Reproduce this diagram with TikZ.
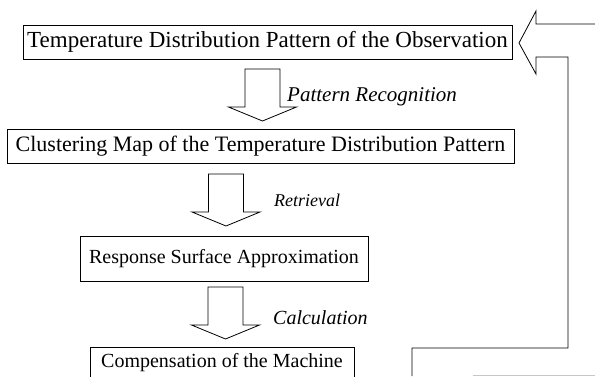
\documentclass[tikz,border=0pt]{standalone}
\usepackage{fontspec}
\setmainfont{Liberation Serif}
\newcommand{\fsz}[1]{\fontsize{#1}{#1}\selectfont}
\begin{document}
\begin{tikzpicture}[x=1pt,y=1pt,
  box/.style={draw, line width=0.8pt, inner sep=0pt, text height=14pt, text depth=4pt},
  lbl/.style={anchor=west, inner sep=0pt},
  hollowdown/.pic={\draw[line width=0.8pt, line join=miter] (-17.5,0) -- (-17.5,-38) -- (-34,-38) -- (0,-52) -- (34,-38) -- (17.5,-38) -- (17.5,0) -- cycle;}
]
\useasboundingbox (0,0) rectangle (595,376);
% boxes
\node[box, font=\fsz{23}, minimum width=489pt, minimum height=34pt] (b1) at (267.5,334) {Temperature Distribution Pattern of the Observation};
\node[box, font=\fsz{22}, minimum width=507pt, minimum height=34pt] (b2) at (260.5,230) {Clustering Map of the Temperature Distribution Pattern};
\node[box, font=\fsz{20}, minimum width=288pt, minimum height=45pt] (b3) at (224,117.5) {Response Surface Approximation};
\node[draw, line width=0.8pt, anchor=north, inner xsep=0pt, inner ysep=4pt, minimum width=264pt, font=\fsz{20}, text height=16pt, text depth=40pt] (b4) at (222,29) {Compensation of the Machine};
% hollow arrows between boxes
\coordinate (a1) at (262.5,307);
\coordinate (a2) at (226,202);
\coordinate (a3) at (225.5,89);
\pic at (a1) {hollowdown};
\pic at (a2) {hollowdown};
\pic at (a3) {hollowdown};
% labels
\node[lbl, font=\fsz{21}\itshape] (l1) at (287,279) {Pattern Recognition};
\node[lbl, font=\fsz{18}\itshape] (l2) at (274,176) {Retrieval};
\node[lbl, font=\fsz{20}\itshape] (l3) at (273,58) {Calculation};
% feedback arrow
\coordinate (fbstart) at (412,0);
\coordinate (fbend) at (595,352);
\draw[line width=0.8pt, line join=miter] (fbstart) -- (412,28) -- (568,28) -- (568,319) -- (536,319) -- (536,302) -- (519,333) -- (536,365) -- (536,352) -- (fbend);
\coordinate (faintL) at (473,1);
\coordinate (faintR) at (595,1);
\draw[gray!45, line width=0.6pt] (faintL) -- (faintR);
\end{tikzpicture}
\end{document}
